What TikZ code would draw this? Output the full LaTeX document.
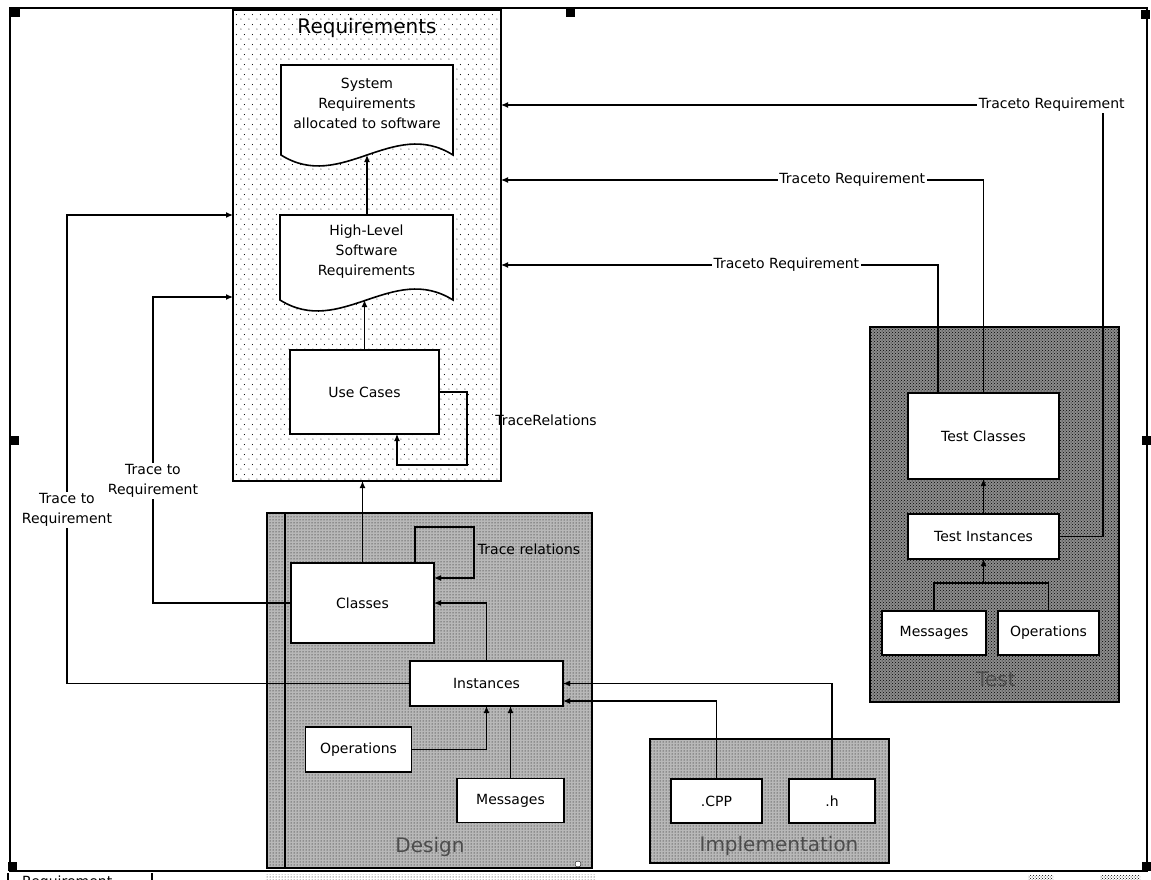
\documentclass[tikz,border=0pt]{standalone}
\usepackage{fontspec}
\setmainfont{DejaVu Sans}
\usetikzlibrary{
    arrows.meta,
    positioning,
    calc,
    patterns,
    patterns.meta
}

% light dot raster for the requirements package
\tikzdeclarepattern{
    name=sparse dots,
    type=uncolored,
    bounding box={(0pt,0pt) and (8pt,10pt)},
    tile size={(8pt,10pt)},
    code={
        \fill (1pt,1pt) circle (0.6pt);
        \fill (5pt,6pt) circle (0.6pt);
    }
}

\tikzset{
    % Packages
    frame line/.style={line width=1.6pt},
    package/.style={draw, frame line, inner sep=0pt, outer sep=0pt},
    requirements package/.style={package, preaction={fill=white}, pattern=sparse dots},
    design package/.style={package, preaction={fill=black!28}, pattern=dots},
    test package/.style={package, preaction={fill=black!45}, pattern=crosshatch dots},
    package title/.style={font=\fontsize{20}{24}\selectfont},
    faded title/.style={package title, text=black!70},
    %
    % Model elements
    element/.style={draw, fill=white, line width=1.6pt, align=center, inner sep=0pt, outer sep=0pt},
    document/.style={fill=white, line width=1.6pt},
    doc text/.style={align=center, inner sep=0pt},
    %
    % Arrows
    arrow tip/.tip={Latex[length=7pt,width=6pt]},
    link/.style={line width=1.2pt},
    arr/.style={link, ->, >={arrow tip}},
    trace label/.style={fill=white, inner sep=1.5pt, align=center},
    %
    % Selection handles
    handle/.style={fill=black, minimum size=9pt, inner sep=0pt}
}
\tikzstyle{every node}=[font=\fontsize{14}{20}\selectfont]

% sheet with a wavy lower edge: left, top, right, wave line
\newcommand{\docshape}[4]{%
    \filldraw[document] (#1,#2) -- (#3,#2) -- (#3,#4)
        .. controls ({#1+0.65*(#3-#1)},{#4-38}) and ({#1+0.35*(#3-#1)},{#4+38}) .. (#1,#4) -- cycle;
}

\begin{document}
\begin{tikzpicture}[x=1pt, y=-1pt]
    \useasboundingbox (0,0) rectangle (1151,880);

    \draw[frame line] (10,8) rectangle (1147,871);

    % packages
    \node[requirements package, minimum width=268pt, minimum height=471pt] (req) at (367,245.5) {};
    \node[package title] (reqtitle) at (367,28) {Requirements};
    \node[design package, minimum width=325pt, minimum height=355pt] (design) at (429.5,690.5) {};
    \draw[link] ($(design.north west)+(18,0)$) -- ($(design.south west)+(18,0)$);
    \node[faded title] (designtitle) at (430,847) {Design};
    \draw[fill=white] (578,864) circle (3pt);
    \node[design package, minimum width=239pt, minimum height=124pt] (impl) at (769.5,801) {};
    \node[faded title] (impltitle) at (779,846) {Implementation};
    \node[test package, minimum width=249pt, minimum height=375pt] (test) at (994.5,514.5) {};
    \node[faded title] (testtitle) at (996,679) {Test};

    % requirements
    \docshape{281}{65}{453}{155}
    \node[doc text] (sysreq) at (367,103) {System\\Requirements\\allocated to software};
    \docshape{280}{215}{453}{300}
    \node[doc text] (hlreq) at (366.5,252) {High-Level\\Software\\Requirements};
    \coordinate (sysreq-w) at (367,155);
    \coordinate (hlreq-n) at (367,215);
    \coordinate (hlreq-w) at (366.5,300);
    \node[element, minimum width=149pt, minimum height=84pt] (usecases) at (364.5,392) {Use Cases};

    \draw[arr] (hlreq-n) -- (sysreq-w);
    \draw[arr] (usecases.north) -- (usecases.north |- hlreq-w);
    \draw[arr] (usecases.east) -- ++(28,0) |- ($(usecases.south)+(32.5,31)$) -- ($(usecases.south)+(32.5,0)$);
    \node (ucrel) at (546,420) {TraceRelations};

    % design
    \node[element, minimum width=143pt, minimum height=80pt] (classes) at (362.5,603) {Classes};
    \node[element, minimum width=153pt, minimum height=45pt] (instances) at (486.5,683.5) {Instances};
    \node[element, minimum width=106pt, minimum height=45pt] (dops) at (358.5,749.5) {Operations};
    \node[element, minimum width=107pt, minimum height=44pt] (dmsg) at (510.5,800.5) {Messages};

    \draw[arr] (classes.north) -- (classes.north |- req.south);
    \draw[arr] ($(classes.north east)+(-19,0)$) -- ++(0,-36) -- ++(59,0)
        |- node[pos=0.22, anchor=west] (clsrel) {Trace relations} ($(classes.east)+(0,-25)$);
    \draw[arr] (instances.north) |- (classes.east);
    \draw[arr] (dops.east) -| (instances.south);
    \draw[arr] (dmsg.north) -- (dmsg.north |- instances.south);

    % implementation
    \node[element, minimum width=91pt, minimum height=44pt] (cpp) at (716.5,801) {.CPP};
    \node[element, minimum width=86pt, minimum height=44pt] (hdr) at (832,801) {.h};
    \draw[arr] (cpp.north) |- ($(instances.south east)+(0,-5)$);
    \draw[arr] (hdr.north) |- (instances.east);

    % test
    \node[element, minimum width=151pt, minimum height=86pt] (tclasses) at (983.5,436) {Test Classes};
    \node[element, minimum width=151pt, minimum height=45pt] (tinst) at (983.5,536.5) {Test Instances};
    \node[element, minimum width=104pt, minimum height=44pt] (tmsg) at (934,633) {Messages};
    \node[element, minimum width=101pt, minimum height=44pt] (tops) at (1048.5,633) {Operations};
    \coordinate (tjoin) at (983.5,583);
    \draw[arr] (tinst.north) -- (tclasses.south);
    \draw[link] (tmsg.north) |- (tjoin) -| (tops.north);
    \draw[arr] (tjoin) -- (tinst.south);

    % trace links back to the requirements
    \coordinate (tr1) at (1103,105);
    \coordinate (tr2) at (983.5,180);
    \coordinate (tr3) at (938,265);
    \draw[arr] (tinst.east) -| (tr1) -- node[trace label, pos=0.085] (tlab-a) {Traceto Requirement} (tr1 -| req.east);
    \draw[arr] (tclasses.north) -- (tr2) -- node[trace label, pos=0.272] (tlab-b) {Traceto Requirement} (tr2 -| req.east);
    \draw[arr] (tr3 |- tclasses.north) -- (tr3) -- node[trace label, pos=0.347] (tlab-c) {Traceto Requirement} (tr3 -| req.east);

    \coordinate (cls-up) at (153,297);
    \coordinate (inst-up) at (67,215);
    \draw[arr] (classes.west) -| node[trace label, pos=0.7] (tlab-cls) {Trace to\\Requirement} (cls-up) -- (cls-up -| req.west);
    \draw[arr] (instances.west) -| node[trace label, pos=0.685] (tlab-inst) {Trace to\\Requirement} (inst-up) -- (inst-up -| req.west);

    % selection handles
    \foreach \hx/\hy in {15/13, 570/13, 1145/15, 14/440, 1146/440, 12/866, 1146/866}
        \node[handle] (handle-\hx-\hy) at (\hx,\hy) {};

    % cut-off row below the sheet
    \begin{scope}
        \clip (0,873) rectangle (1151,880);
        \node[anchor=north west, inner sep=0pt] (cutlabel) at (22,876) {Requirement};
        \draw[link] (8,873) -- (8,880);
        \draw[link] (152,873) -- (152,880);
        \fill[pattern=dots] (265,874) rectangle (595,880);
        \fill[pattern=crosshatch dots] (1028,875) rectangle (1053,880);
        \fill[pattern=crosshatch dots] (1100,875) rectangle (1140,880);
    \end{scope}
\end{tikzpicture}
\end{document}
